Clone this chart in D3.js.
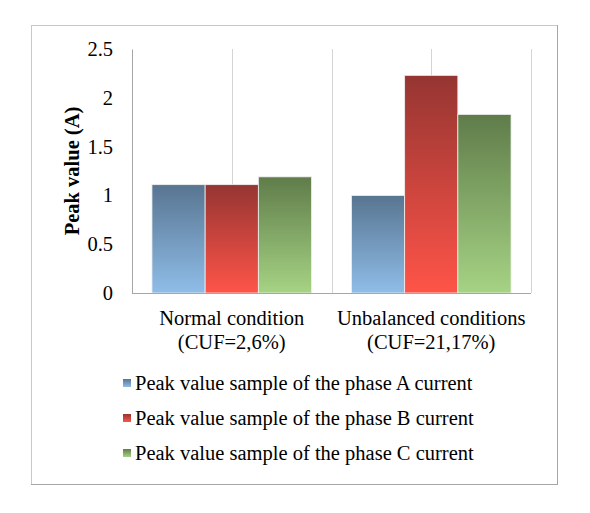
<!DOCTYPE html>
<html>
<head>
<meta charset="utf-8">
<script src="https://cdn.jsdelivr.net/npm/d3@7"></script>
<style>
  body { margin: 0; background: #fff; }
</style>
</head>
<body>
<div id="chart"></div>
<script>
// chart values
const categories = ["Normal condition|(CUF=2,6%)", "Unbalanced conditions|(CUF=21,17%)"];
const seriesNames = [
  "Peak value sample of the phase A current",
  "Peak value sample of the phase B current",
  "Peak value sample of the phase C current"
];
const phaseA = [1.11, 1.0];
const phaseB = [1.11, 2.23];
const phaseC = [1.19, 1.83];
const yTicks = [0, 0.5, 1, 1.5, 2, 2.5];

const gradients = [
  ["#587591", "#8fbde8"],
  ["#953532", "#ff5448"],
  ["#5f7c4a", "#a6d384"]
];

const width = 590;
const height = 513;
const plot = { left: 132, right: 531, top: 49, bottom: 293 };
const font = "Liberation Serif";
const fontSize = 20.5;

const svg = d3.select("#chart").append("svg").attr("width", width).attr("height", height)
  .attr("font-family", font);

const defs = svg.append("defs");
gradients.forEach((g, i) => {
  const lg = defs.append("linearGradient").attr("id", "grad" + i)
    .attr("x1", 0).attr("y1", 0).attr("x2", 0).attr("y2", 1);
  lg.append("stop").attr("offset", "0%").attr("stop-color", g[0]);
  lg.append("stop").attr("offset", "100%").attr("stop-color", g[1]);
});

// outer frame
svg.append("rect").attr("x", 31.5).attr("y", 25.5).attr("width", 526).attr("height", 459)
  .attr("fill", "#fff").attr("stroke", "#c8c8c8");
svg.append("path").attr("d", "M557.5,25 V485 M31,484.5 H558").attr("stroke", "#a6a6a6").attr("fill", "none");

const x0 = d3.scaleBand().domain(d3.range(categories.length)).range([plot.left, plot.right]).paddingInner(0.2).paddingOuter(0.1);
const x1 = d3.scaleBand().domain(d3.range(seriesNames.length)).range([0, x0.bandwidth()]);
const y = d3.scaleLinear().domain([0, 2.5]).range([plot.bottom, plot.top]);

// category band scale without padding for gridlines
const xCat = d3.scaleBand().domain(d3.range(categories.length)).range([plot.left, plot.right]);

// vertical gridlines at category centers and boundaries
const gridX = [];
categories.forEach((c, i) => {
  gridX.push(xCat(i) + xCat.bandwidth() / 2);
  gridX.push(xCat(i) + xCat.bandwidth());
});
svg.append("g").selectAll("line").data(gridX).join("line")
  .attr("x1", d => Math.round(d) + 0.5).attr("x2", d => Math.round(d) + 0.5)
  .attr("y1", plot.top).attr("y2", plot.bottom)
  .attr("stroke", "#d4d4d4");

// bars
const series = [phaseA, phaseB, phaseC];
const barData = [];
categories.forEach((c, ci) => {
  series.forEach((s, si) => barData.push({ ci, si, v: s[ci] }));
});
svg.append("g").selectAll("rect").data(barData).join("rect")
  .attr("x", d => x0(d.ci) + x1(d.si))
  .attr("y", d => y(d.v))
  .attr("width", x1.bandwidth())
  .attr("height", d => plot.bottom - y(d.v))
  .attr("fill", d => `url(#grad${d.si})`)
  .attr("stroke", "#f0f0f0")
  .attr("stroke-width", 0.8);

// axes
const yAxis = d3.axisLeft(y).tickValues(yTicks).tickSize(0).tickPadding(19).tickFormat(d3.format("~g"));
const gy = svg.append("g").attr("transform", `translate(${plot.left},0)`).call(yAxis);
gy.attr("font-family", font).attr("font-size", fontSize);
gy.select(".domain").attr("stroke", "#a6a6a6");
gy.selectAll("text").attr("fill", "#000");

svg.append("line").attr("x1", plot.left).attr("x2", plot.right)
  .attr("y1", plot.bottom + 0.5).attr("y2", plot.bottom + 0.5).attr("stroke", "#a6a6a6");

// category labels
categories.forEach((c, i) => {
  const cx = xCat(i) + xCat.bandwidth() / 2;
  c.split("|").forEach((line, li) => {
    svg.append("text").attr("x", cx).attr("y", 325 + li * 24)
      .attr("text-anchor", "middle").attr("font-size", fontSize).text(line);
  });
});

// y axis title
svg.append("text")
  .attr("transform", `translate(79,${(plot.top + plot.bottom) / 2}) rotate(-90)`)
  .attr("text-anchor", "middle").attr("font-size", fontSize).attr("font-weight", "bold")
  .text("Peak value (A)");

// legend
const legend = svg.append("g");
seriesNames.forEach((name, i) => {
  const base = 390 + i * 35;
  legend.append("rect").attr("x", 123).attr("y", base - 11).attr("width", 8).attr("height", 8)
    .attr("fill", `url(#grad${i})`);
  legend.append("text").attr("x", 135).attr("y", base).attr("font-size", fontSize).text(name);
});
</script>
</body>
</html>
